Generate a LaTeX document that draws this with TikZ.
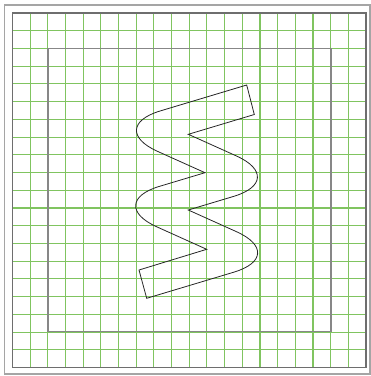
\documentclass[tikz,border=0pt]{standalone}
\usetikzlibrary{calc}
\definecolor{gridgreen}{RGB}{128,196,96}
\definecolor{outergray}{RGB}{165,165,165}
\definecolor{framegray}{RGB}{110,110,110}
\definecolor{innergray}{RGB}{135,135,135}
\tikzset{
  gridline/.style={draw=gridgreen, line width=1.1pt},
  outerframe/.style={draw=outergray, line width=1.6pt},
  mainframe/.style={draw=framegray, line width=1.4pt},
  innerframe/.style={draw=innergray, line width=1.1pt},
  zigzag/.style={draw=black!85, line width=0.8pt, line join=miter}
}
\begin{document}
\begin{tikzpicture}[x=1pt,y=-1pt]
\useasboundingbox (0,0) rectangle (371,376);
% grid
\foreach \i in {1,...,19} {
  \draw[gridline] ({12.5+\i*17.675},13) -- ({12.5+\i*17.675},367.5);
  \draw[gridline] (12.5,{13+\i*17.725}) -- (366,{13+\i*17.725});
}
% frames
\draw[outerframe] (4.5,5) rectangle (370,374);
\draw[mainframe] (12.5,13) rectangle (366,367.5);
\draw[innerframe] (48,48.5) rectangle (331,331.8);
% zigzag band
\coordinate (T) at (246.7,85);
\coordinate (R) at (254.3,114.5);
\coordinate (V3) at (188.3,134.3);
\coordinate (CR1) at (289.2,179.7);
\coordinate (V4) at (188.3,210);
\coordinate (CR2) at (289.4,255.5);
\coordinate (B) at (146.7,298.3);
\coordinate (E) at (139,270);
\coordinate (V1) at (206.7,249.3);
\coordinate (CL2) at (103.9,203);
\coordinate (V2) at (205,172.7);
\coordinate (CL1) at (104.7,127.6);
\draw[zigzag] (T) -- ($(CL1)!58pt!(T)$)
  .. controls ($(CL1)!26pt!(T)$) and ($(CL1)!26pt!(V2)$) .. ($(CL1)!58pt!(V2)$)
  -- (V2) -- ($(CL2)!58pt!(V2)$)
  .. controls ($(CL2)!26pt!(V2)$) and ($(CL2)!26pt!(V1)$) .. ($(CL2)!58pt!(V1)$)
  -- (V1) -- (E) -- (B) -- ($(CR2)!58pt!(B)$)
  .. controls ($(CR2)!26pt!(B)$) and ($(CR2)!26pt!(V4)$) .. ($(CR2)!58pt!(V4)$)
  -- (V4) -- ($(CR1)!58pt!(V4)$)
  .. controls ($(CR1)!26pt!(V4)$) and ($(CR1)!26pt!(V3)$) .. ($(CR1)!58pt!(V3)$)
  -- (V3) -- (R) -- cycle;
\end{tikzpicture}
\end{document}
